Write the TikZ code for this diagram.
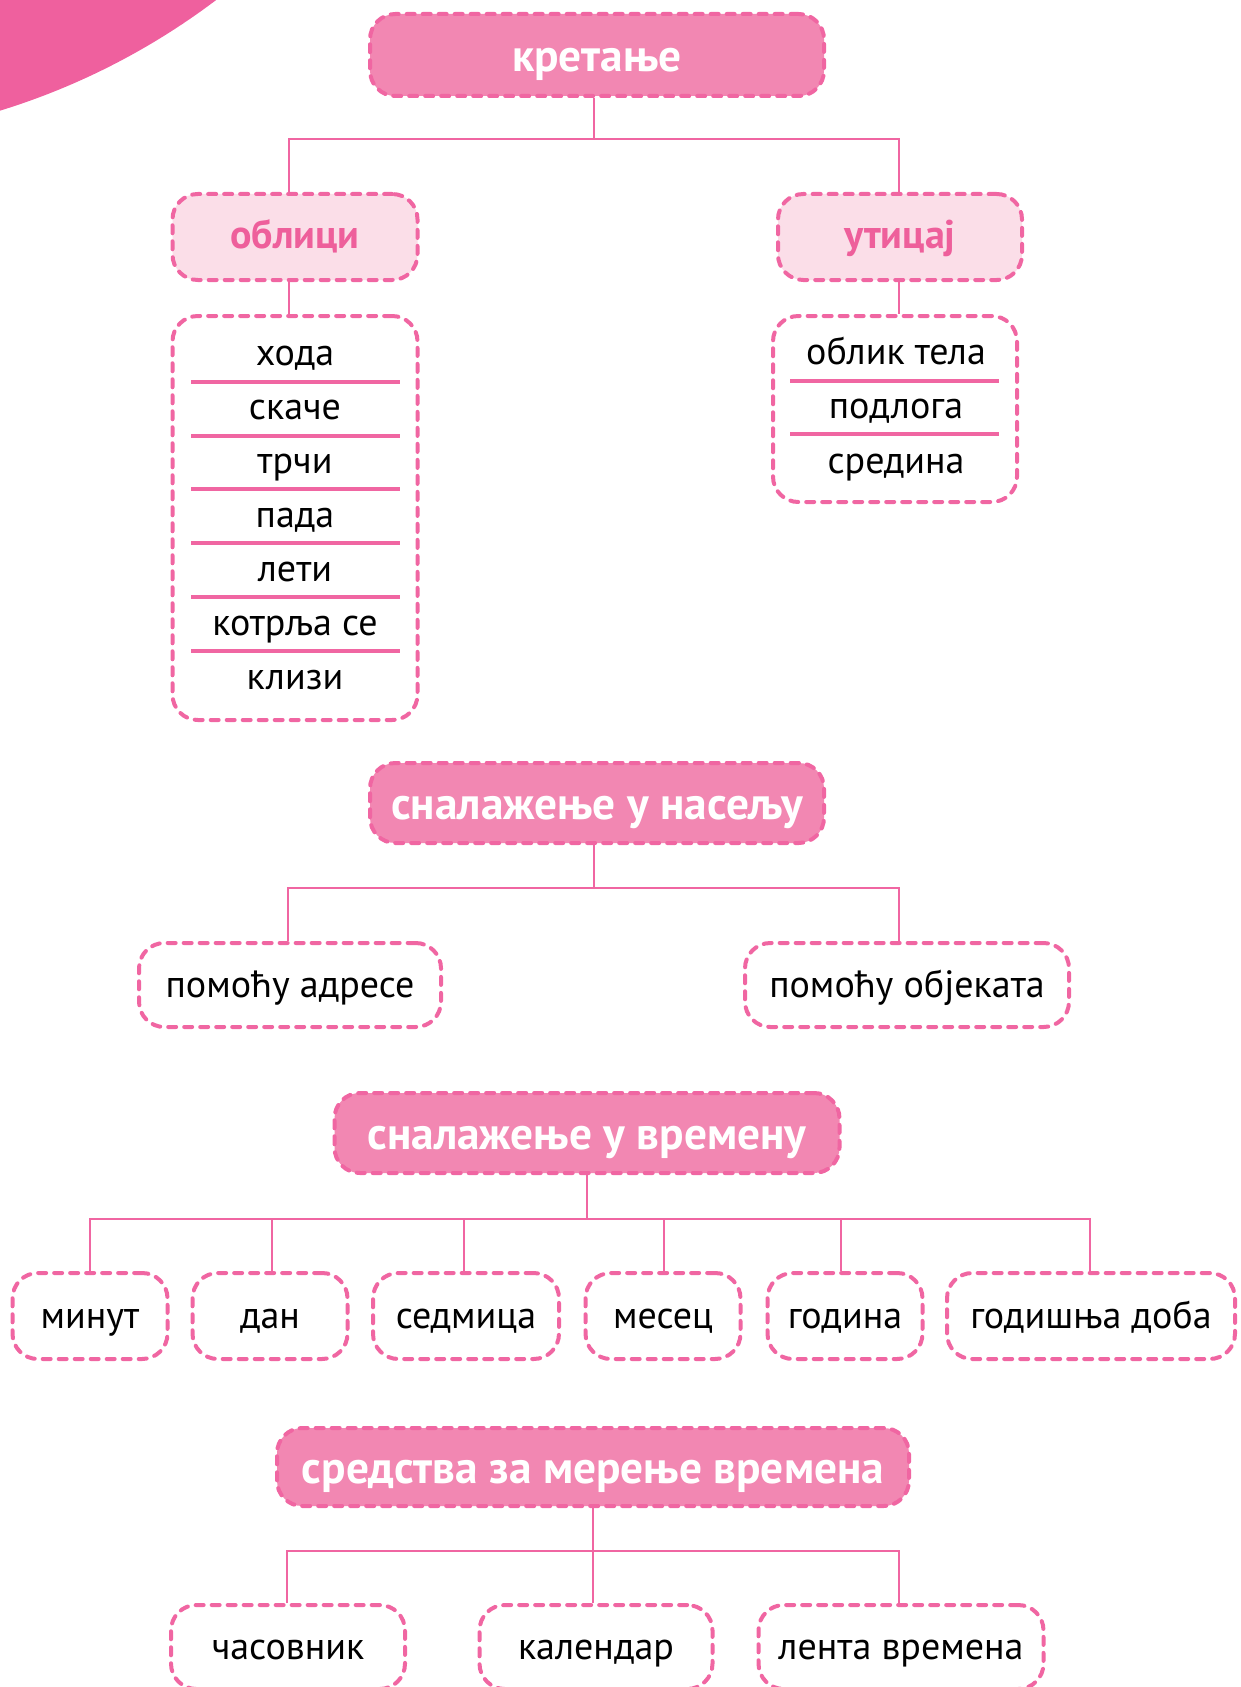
\documentclass[tikz,border=0pt]{standalone}
\usepackage{fontspec}
\setmainfont{PT Sans}
\definecolor{pinkline}{RGB}{240,102,162}
\definecolor{headfill}{RGB}{242,135,178}
\definecolor{lightfill}{RGB}{251,222,232}
\definecolor{subtext}{RGB}{238,95,155}
\definecolor{circfill}{RGB}{239,96,158}
\begin{document}
\begin{tikzpicture}[x=0.75pt,y=-0.75pt,
  sz/.style 2 args={minimum width={#1*0.75pt}, minimum height={#2*0.75pt}},
  box/.style={draw=pinkline, line width=3pt, dash pattern=on 6pt off 6pt, line cap=round,
    rounded corners=19pt, inner sep=0pt, align=center, text depth=0pt},
  head/.style={box, fill=headfill, text=white, text height=25pt, font=\bfseries\fontsize{34}{36}\selectfont},
  subhead/.style={box, fill=lightfill, text=subtext, text height=17pt, font=\bfseries\fontsize{30}{32}\selectfont},
  leaf/.style={box, fill=white, text height=18pt, font=\fontsize{28.5}{30}\selectfont},
  item/.style={anchor=base, inner sep=0pt, font=\fontsize{28.5}{30}\selectfont},
  conn/.style={draw=pinkline, line width=2.2pt},
  sepline/.style={draw=pinkline, line width=2.4pt}]
\useasboundingbox (0,0) rectangle (1240,1687);
\begin{scope}
\clip (0,0) rectangle (1240,1687);
\fill[circfill] (-207,-561) circle [radius=527pt];

% --- кретање ---
\node[head, sz={454}{82}] (kret) at (597,55) {кретање};
\node[subhead, sz={245}{86}] (obl) at (295,237) {облици};
\node[subhead, sz={244}{86}] (uti) at (900,237) {утицај};
\node[box, sz={245}{404}] (listL) at (295,518) {};
\node[box, sz={244}{186}] (listR) at (895,409) {};
\coordinate (j1) at (594,139);
\coordinate (b1l) at (289,0);
\coordinate (b1r) at (899,0);
\draw[conn] (kret.south -| j1) -- (j1);
\draw[conn] (obl.north -| b1l) -- (j1 -| b1l) -- (j1 -| b1r) -- (uti.north -| b1r);
\draw[conn] (obl.south -| b1l) -- (listL.north -| b1l);
\draw[conn] (uti.south -| b1r) -- (listR.north -| b1r);

\node[item] (l1) at (295,365) {хода};
\node[item] (l2) at (295,419) {скаче};
\node[item] (l3) at (295,473) {трчи};
\node[item] (l4) at (295,527) {пада};
\node[item] (l5) at (295,581) {лети};
\node[item] (l6) at (295,635) {котрља се};
\node[item] (l7) at (295,689) {клизи};
\foreach \yy in {382,436,489,543,597,651}{\draw[sepline] (191,\yy) -- (400,\yy);}

\node[item] (r1) at (896,364) {облик тела};
\node[item] (r2) at (896,418) {подлога};
\node[item] (r3) at (896,473) {средина};
\foreach \yy in {381,434}{\draw[sepline] (790,\yy) -- (999,\yy);}

% --- сналажење у насељу ---
\node[head, sz={454}{80}] (nas) at (597,803) {сналажење у насељу};
\node[leaf, sz={302}{84}] (adr) at (290,985) {помоћу адресе};
\node[leaf, sz={324}{84}] (obj) at (907,985) {помоћу објеката};
\coordinate (j2) at (594,888);
\coordinate (b2l) at (288,0);
\coordinate (b2r) at (899,0);
\draw[conn] (nas.south -| j2) -- (j2);
\draw[conn] (adr.north -| b2l) -- (j2 -| b2l) -- (j2 -| b2r) -- (obj.north -| b2r);

% --- сналажење у времену ---
\node[head, sz={505}{80}] (vrem) at (587,1133) {сналажење у времену};
\node[leaf, sz={155}{86}] (t1) at (90,1316) {минут};
\node[leaf, sz={155}{86}] (t2) at (270,1316) {дан};
\node[leaf, sz={186}{86}] (t3) at (466,1316) {седмица};
\node[leaf, sz={155}{86}] (t4) at (663,1316) {месец};
\node[leaf, sz={155}{86}] (t5) at (845,1316) {година};
\node[leaf, sz={288}{86}] (t6) at (1091,1316) {годишња доба};
\coordinate (j3) at (587,1219);
\draw[conn] (vrem.south -| j3) -- (j3);
\draw[conn] (t1.north -| 90,0) -- (j3 -| 90,0) -- (j3 -| 1090,0) -- (t6.north -| 1090,0);
\draw[conn] (t2.north -| 272,0) -- (j3 -| 272,0);
\draw[conn] (t3.north -| 464,0) -- (j3 -| 464,0);
\draw[conn] (t4.north -| 664,0) -- (j3 -| 664,0);
\draw[conn] (t5.north -| 841,0) -- (j3 -| 841,0);

% --- средства за мерење времена ---
\node[head, sz={632}{78}] (sred) at (593,1467) {средства за мерење времена};
\node[leaf, sz={234}{84}] (c1) at (288,1647) {часовник};
\node[leaf, sz={233}{84}] (c2) at (596,1647) {календар};
\node[leaf, sz={285}{84}] (c3) at (901,1647) {лента времена};
\coordinate (j4) at (593,1551);
\draw[conn] (sred.south -| j4) -- (c2.north -| j4);
\draw[conn] (c1.north -| 287,0) -- (j4 -| 287,0) -- (j4 -| 899,0) -- (c3.north -| 899,0);
\end{scope}
\end{tikzpicture}
\end{document}
